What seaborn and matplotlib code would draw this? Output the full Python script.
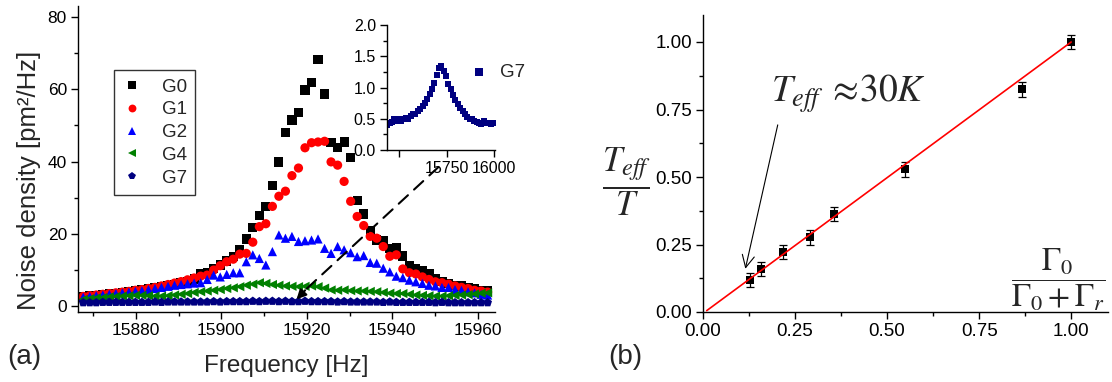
import numpy as np
import pandas as pd
import seaborn as sns
import matplotlib.pyplot as plt
from matplotlib.ticker import MultipleLocator, FormatStrFormatter

# ---- panel (a): noise spectra for different feedback gains ----
freq = [15867.72, 15869.25, 15870.77, 15872.30, 15873.82, 15875.35, 15876.87, 15878.40,
        15879.92, 15881.45, 15882.97, 15884.50, 15886.02, 15887.55, 15889.07, 15890.60,
        15892.12, 15893.65, 15895.17, 15896.70, 15898.22, 15899.75, 15901.27, 15902.80,
        15904.32, 15905.85, 15907.37, 15908.90, 15910.42, 15911.95, 15913.47, 15915.00,
        15916.52, 15918.05, 15919.57, 15921.10, 15922.62, 15924.15, 15925.67, 15927.20,
        15928.72, 15930.25, 15931.77, 15933.30, 15934.82, 15936.35, 15937.87, 15939.40,
        15940.92, 15942.45, 15943.97, 15945.50, 15947.02, 15948.55, 15950.07, 15951.60,
        15953.12, 15954.65, 15956.17, 15957.70, 15959.22, 15960.75, 15962.27]

g0 = [2.6, 2.8, 3.0, 3.2, 3.4, 3.6, 3.8, 4.0, 4.3, 4.5, 4.8, 5.1, 5.4, 5.7, 6.0, 6.4,
      6.9, 7.5, 9.1, 9.2, 10.5, 11.4, 12.5, 13.7, 15.7, 18.6, 21.7, 25.0, 27.6, 33.4,
      39.9, 48.1, 51.5, 53.6, 59.8, 61.9, 68.2, 58.7, 45.2, 43.8, 45.4, 41.2, 29.3, 25.5,
      20.9, 18.3, 18.0, 16.0, 16.2, 13.9, 11.2, 10.3, 9.8, 8.9, 7.7, 6.75, 6.3, 5.8, 5.6,
      5.2, 4.9, 4.4, 4.25]
g1 = [2.7, 2.9, 3.1, 3.3, 3.5, 3.7, 3.9, 4.1, 4.4, 4.6, 4.9, 5.2, 5.6, 6.0, 6.4, 6.8,
      7.3, 7.8, 8.3, 8.6, 10.0, 11.2, 12.3, 13.0, 14.4, 14.6, 17.7, 22.0, 22.8, 27.6,
      30.4, 31.8, 36.1, 38.2, 43.8, 45.2, 45.4, 45.6, 39.9, 39.0, 34.5, 29.0, 24.8, 22.3,
      19.3, 18.8, 16.5, 13.8, 14.2, 10.3, 9.25, 8.9, 8.1, 7.4, 6.75, 6.5, 6.1, 5.6, 5.2,
      4.9, 4.4, 4.2, 3.9]
g2 = [2.5, 2.7, 2.9, 3.1, 3.3, 3.5, 3.7, 3.9, 4.1, 4.3, 4.6, 4.9, 5.2, 5.5, 5.8, 6.0,
      6.2, 6.4, 6.5, 7.4, 8.6, 8.1, 8.8, 9.25, 9.25, 12.3, 14.2, 13.2, 11.4, 15.1, 19.7,
      18.8, 19.3, 17.9, 18.1, 18.3, 18.6, 16.0, 14.6, 16.5, 15.6, 14.8, 13.7, 14.0, 12.1,
      11.9, 10.5, 9.5, 8.3, 7.9, 7.2, 6.75, 6.3, 5.8, 5.6, 5.2, 5.2, 4.6, 4.4, 4.0, 3.7,
      3.3, 3.1]
g4 = [1.9, 2.1, 2.3, 2.4, 2.6, 2.7, 2.8, 2.9, 3.0, 3.0, 2.9, 2.8, 2.8, 2.9, 3.1, 3.3,
      3.5, 3.8, 4.0, 4.2, 4.4, 4.6, 4.9, 5.1, 5.4, 5.8, 6.1, 6.5, 6.3, 6.0, 5.8, 5.6,
      5.5, 5.4, 5.5, 5.6, 5.4, 5.0, 4.5, 4.4, 4.5, 4.3, 4.2, 4.2, 4.1, 4.0, 3.8, 3.6,
      3.5, 3.5, 3.3, 3.1, 3.0, 2.9, 2.8, 2.8, 2.9, 3.0, 3.1, 3.2, 3.4, 3.6, 3.7]
g7 = [1.0, 1.0, 1.0, 1.1, 1.1, 1.1, 1.1, 1.1, 1.1, 1.1, 1.1, 1.2, 1.1, 1.2, 1.2, 1.2,
      1.2, 1.2, 1.2, 1.2, 1.3, 1.2, 1.3, 1.3, 1.3, 1.3, 1.4, 1.3, 1.4, 1.4, 1.3, 1.4,
      1.3, 1.3, 1.4, 1.3, 1.3, 1.3, 1.3, 1.2, 1.3, 1.2, 1.2, 1.2, 1.2, 1.2, 1.1, 1.2,
      1.1, 1.1, 1.1, 1.1, 1.1, 1.1, 1.0, 1.1, 1.0, 1.0, 1.0, 1.0, 1.0, 1.0, 1.0]

gains = ["G0", "G1", "G2", "G4", "G7"]
gain_colors = {"G0": "black", "G1": "#ff0000", "G2": "#0000ff", "G4": "#008000", "G7": "#000080"}
gain_markers = {"G0": "s", "G1": "o", "G2": "^", "G4": "<", "G7": "p"}

# inset: G7 over a wide span
inset_freq = [15440, 15452, 15464, 15477, 15489, 15501, 15513, 15526, 15538, 15550,
              15563, 15575, 15587, 15599, 15612, 15624, 15636, 15649, 15661, 15673,
              15685, 15698, 15710, 15722, 15735, 15747, 15759, 15771, 15784, 15796,
              15808, 15821, 15833, 15845, 15857, 15870, 15882, 15894, 15907, 15919,
              15931, 15943, 15956, 15968, 15980, 15993]
inset_g7 = [0.40, 0.44, 0.45, 0.49, 0.47, 0.50, 0.46, 0.49, 0.52, 0.50,
            0.55, 0.58, 0.57, 0.62, 0.66, 0.70, 0.76, 0.82, 0.90, 0.98,
            1.07, 1.20, 1.32, 1.34, 1.26, 1.18, 1.06, 0.98, 0.88, 0.80,
            0.74, 0.68, 0.62, 0.57, 0.53, 0.50, 0.50, 0.47, 0.45, 0.44,
            0.42, 0.46, 0.43, 0.44, 0.42, 0.43]

# ---- panel (b): effective temperature vs damping ratio ----
damping_ratio = [0.127, 0.157, 0.217, 0.290, 0.357, 0.548, 0.867, 1.0]
teff_ratio = [0.118, 0.161, 0.223, 0.276, 0.363, 0.528, 0.825, 1.0]
teff_err = [0.026, 0.026, 0.027, 0.026, 0.026, 0.027, 0.027, 0.026]
fit_x = [0.01, 1.0]
fit_y = [0.005, 1.0]

spectra = pd.concat(
    [pd.DataFrame({"freq": freq, "noise": vals, "gain": g})
     for g, vals in zip(gains, [g0, g1, g2, g4, g7])],
    ignore_index=True)

sns.set_theme(style="ticks")
plt.rcParams["font.family"] = ["Liberation Sans", "DejaVu Sans"]
plt.rcParams["mathtext.fontset"] = "stix"
plt.rcParams["axes.linewidth"] = 1.0

W, H = 1112, 382
fig = plt.figure(figsize=(W / 100, H / 100), dpi=100)


def px_axes(x0, y0, x1, y1):
    # axes box given in picture pixels (top-left origin)
    return fig.add_axes([x0 / W, 1 - y1 / H, (x1 - x0) / W, (y1 - y0) / H])


def style_ticks(ax, size=12.5):
    ax.tick_params(which="major", direction="out", length=5, width=1, labelsize=size,
                   colors="black", pad=3)
    ax.tick_params(which="minor", direction="out", length=3, width=1, colors="black")
    sns.despine(ax=ax)
    for s in ("left", "bottom"):
        ax.spines[s].set_color("black")


# ---------------- panel (a) ----------------
ax1 = px_axes(78, 6, 495, 312)
sns.scatterplot(data=spectra, x="freq", y="noise", hue="gain", style="gain",
                palette=gain_colors, markers=gain_markers, s=44, linewidth=0,
                ax=ax1)
ax1.set_xlim(15866.5, 15964.0)
ax1.set_ylim(-1.6, 83)
ax1.xaxis.set_major_locator(MultipleLocator(20))
ax1.xaxis.set_minor_locator(MultipleLocator(10))
ax1.yaxis.set_major_locator(MultipleLocator(20))
ax1.yaxis.set_minor_locator(MultipleLocator(10))
style_ticks(ax1)
ax1.set_xlabel("Frequency [Hz]", fontsize=17.5)
ax1.set_ylabel("Noise density [pm\u00b2/Hz]", fontsize=18.5)
ax1.xaxis.set_label_coords(0.5, -0.142)
ax1.yaxis.set_label_coords(-0.088, 0.43)

sns.move_legend(ax1, "upper left", bbox_to_anchor=(114 / W, 1 - 70 / H),
                bbox_transform=fig.transFigure, title=None, frameon=True,
                fancybox=False, edgecolor="black", fontsize=13.5, borderpad=0.45,
                labelspacing=0.3, handlelength=1.0, handletextpad=1.1,
                markerscale=0.85, borderaxespad=0)
leg = ax1.get_legend()
leg.get_frame().set_linewidth(1.0)

# dashed pointer from inset down to the G7 trace
ax1.annotate("", xy=(15919.2, 4.0), xytext=(15950.8, 38.5),
             arrowprops=dict(arrowstyle="-", color="black", lw=1.5,
                             linestyle=(0, (6, 4)), shrinkA=0, shrinkB=0))
ax1.annotate("", xy=(15917.6, 1.9), xytext=(15919.6, 4.4),
             arrowprops=dict(arrowstyle="-|>", color="black", lw=1.5,
                             mutation_scale=14, shrinkA=0, shrinkB=0))

# inset
axi = px_axes(387, 25, 495, 150)
sns.scatterplot(x=inset_freq, y=inset_g7, marker="s", color="#000080", s=20,
                linewidth=0, ax=axi, label="G7")
axi.set_xlim(15438, 16003)
axi.set_ylim(0, 2.0)
axi.set_xticks([15500, 15750, 16000])
axi.set_xticklabels(["", "15750", "16000"])
axi.yaxis.set_major_locator(MultipleLocator(0.5))
axi.yaxis.set_minor_locator(MultipleLocator(0.25))
axi.yaxis.set_major_formatter(FormatStrFormatter("%.1f"))
style_ticks(axi, size=11.5)
axi.set_xlabel("")
axi.set_ylabel("")
axi.patch.set_alpha(0)
axi.legend(loc="center left", bbox_to_anchor=(470 / W, 1 - 72 / H),
           bbox_transform=fig.transFigure, frameon=False, fontsize=13.5,
           markerscale=1.3, handlelength=1.0, handletextpad=0.6,
           borderaxespad=0, borderpad=0)

# ---------------- panel (b) ----------------
ax2 = px_axes(703, 15, 1108, 312)
ax2.errorbar(damping_ratio, teff_ratio, yerr=teff_err, fmt="none", ecolor="black",
             elinewidth=0.9, capsize=3, capthick=0.9, zorder=2)
sns.scatterplot(x=damping_ratio, y=teff_ratio, marker="s", color="black", s=40,
                linewidth=0, ax=ax2, zorder=3)
sns.lineplot(x=fit_x, y=fit_y, color="#ff0000", lw=1.2, ax=ax2, zorder=4)
ax2.set_xlim(0, 1.1)
ax2.set_ylim(0, 1.1)
ax2.xaxis.set_major_locator(MultipleLocator(0.25))
ax2.xaxis.set_minor_locator(MultipleLocator(0.125))
ax2.yaxis.set_major_locator(MultipleLocator(0.25))
ax2.yaxis.set_minor_locator(MultipleLocator(0.125))
ax2.xaxis.set_major_formatter(FormatStrFormatter("%.2f"))
ax2.yaxis.set_major_formatter(FormatStrFormatter("%.2f"))
style_ticks(ax2, size=13.5)
ax2.set_xlabel("")
ax2.set_ylabel("")

ax2.text(0.186, 0.778, r"$T_{eff}\;\approx\!30K$", fontsize=27, ha="left",
         va="baseline")
ax2.annotate("", xy=(0.115, 0.16), xytext=(0.203, 0.693),
             arrowprops=dict(arrowstyle="->", color="black", lw=0.8,
                             mutation_scale=22, shrinkA=0, shrinkB=0))
ax2.text(0.966, 0.118, r"$\dfrac{\Gamma_0}{\Gamma_0+\Gamma_r}$", fontsize=23,
         ha="center", va="center")
fig.text(627 / W, 1 - 182 / H, r"$\dfrac{T_{eff}}{T}$", fontsize=25,
         ha="center", va="center")

fig.text(24 / W, 1 - 357 / H, "(a)", fontsize=20, ha="center", va="center")
fig.text(625 / W, 1 - 357 / H, "(b)", fontsize=20, ha="center", va="center")

fig.savefig("out.png", dpi=100)
